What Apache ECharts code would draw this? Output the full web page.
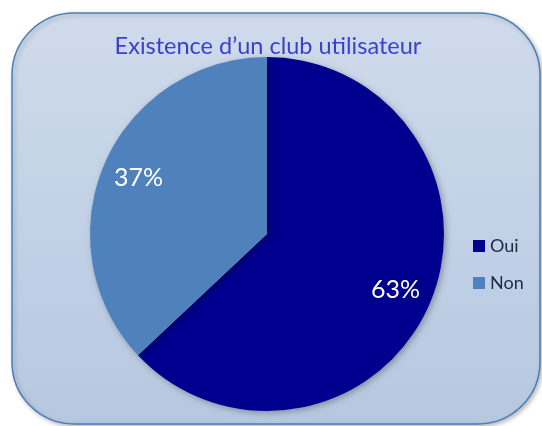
<!DOCTYPE html>
<html>
<head>
<meta charset="utf-8">
<title>Existence d'un club utilisateur</title>
<script src="https://cdn.jsdelivr.net/npm/echarts@6/dist/echarts.min.js"></script>
<style>
  html, body { margin: 0; padding: 0; background: #fff; }
</style>
</head>
<body>
<div id="chart" style="width:542px;height:426px;"></div>
<script>
// données
var categories = ['Oui', 'Non'];
var values = [63, 37];
var colors = ['#00008E', '#4F81BD'];

var myChart = echarts.init(document.getElementById('chart'));

var pieData = categories.map(function (name, i) {
  return { name: name, value: values[i], itemStyle: { color: colors[i] } };
});

var option = {
  animation: false,
  backgroundColor: '#ffffff',
  graphic: [{
    type: 'rect',
    z: -10,
    shape: { x: 12, y: 13, width: 528, height: 411, r: 62 },
    style: {
      fill: new echarts.graphic.LinearGradient(0, 0, 0, 1, [
        { offset: 0, color: '#CFDBEC' },
        { offset: 1, color: '#B6C8E0' }
      ]),
      stroke: '#4A7EBB',
      lineWidth: 1.5,
      shadowBlur: 4,
      shadowOffsetX: 2,
      shadowOffsetY: 2,
      shadowColor: 'rgba(0,0,0,0.25)'
    }
  }],
  title: {
    text: 'Existence d\u2019un club utilisateur',
    left: 263,
    textAlign: 'center',
    top: 29,
    textStyle: {
      fontFamily: 'Lato',
      fontWeight: 'normal',
      fontSize: 23.5,
      color: '#3B3FCF'
    }
  },
  legend: {
    orient: 'vertical',
    left: 468,
    top: 232,
    itemWidth: 12,
    itemHeight: 12,
    itemGap: 19,
    icon: 'rect',
    data: categories,
    textStyle: { fontFamily: 'Lato', fontSize: 18, color: '#1F2A44' }
  },
  series: [
    {
      name: 'Club',
      type: 'pie',
      center: [267, 234],
      radius: [0, 177],
      startAngle: 90,
      clockwise: true,
      label: { show: false },
      labelLine: { show: false },
      itemStyle: {
        shadowBlur: 6,
        shadowOffsetX: 2,
        shadowOffsetY: 2,
        shadowColor: 'rgba(0,0,0,0.3)'
      },
      data: pieData
    },
    {
      // série pour placer les étiquettes plus près du bord
      name: 'labels',
      type: 'pie',
      silent: true,
      center: [267, 234],
      radius: [97, 177],
      startAngle: 90,
      clockwise: true,
      itemStyle: { color: 'rgba(0,0,0,0)' },
      label: {
        show: true,
        position: 'inside',
        formatter: '{d}%',
        fontFamily: 'Lato',
        fontSize: 25,
        color: '#ffffff'
      },
      labelLine: { show: false },
      data: categories.map(function (name, i) { return { name: name, value: values[i] }; })
    }
  ]
};
myChart.setOption(option);
</script>
</body>
</html>
